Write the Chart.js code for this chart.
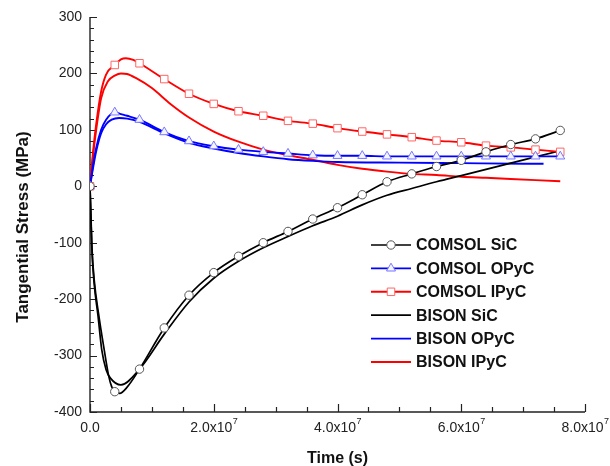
<!DOCTYPE html>
<html>
<head>
<meta charset="utf-8">
<script src="https://cdn.jsdelivr.net/npm/chart.js@4.4.1/dist/chart.umd.min.js"></script>
<style>
html,body{margin:0;padding:0;background:#fff;}
#wrap{width:610px;height:466px;position:relative;}
</style>
</head>
<body>
<div id="wrap"><canvas id="c" width="610" height="466"></canvas></div>
<script>
// ---- Data (time in seconds, stress in MPa) ----
const comsolSiCTime  = [0, 0.15e6, 0.3e6, 0.7e6, 1.4e6, 2.3e6, 3e6, 3.5e6, 4e6, 4.8e6, 6e6, 8e6, 12e6, 16e6, 20e6, 24e6, 28e6, 32e6, 36e6, 40e6, 44e6, 48e6, 52e6, 56e6, 60e6, 64e6, 68e6, 72e6, 76e6];
const comsolSiCValue = [0, -50, -105, -168, -227, -290, -335, -355, -364, -367, -356, -324, -251, -193, -153, -124, -100, -80, -58, -38, -15, 8, 22, 35, 46, 61, 74, 84, 99];

const comsolOPyCTime  = [0, 0.5e6, 1e6, 1.8e6, 2.6e6, 4e6, 5e6, 6e6, 8e6, 12e6, 16e6, 20e6, 24e6, 28e6, 32e6, 36e6, 40e6, 44e6, 48e6, 52e6, 56e6, 60e6, 64e6, 68e6, 72e6, 76e6];
const comsolOPyCValue = [0, 38, 68, 100, 118, 131, 128, 125, 118, 96, 80, 71, 65, 61, 58, 55, 54, 54, 53, 53, 53, 53, 53, 53, 53, 53];

const comsolIPyCTime  = [0, 0.5e6, 1e6, 1.8e6, 2.6e6, 4e6, 5e6, 5.8e6, 7e6, 8e6, 12e6, 16e6, 20e6, 24e6, 28e6, 32e6, 36e6, 40e6, 44e6, 48e6, 52e6, 56e6, 60e6, 64e6, 68e6, 72e6, 76e6];
const comsolIPyCValue = [0, 62, 110, 168, 198, 215, 225, 227, 224, 218, 190, 164, 146, 133, 125, 116, 111, 103, 97, 92, 87, 81, 78, 72, 69, 65, 61];

const bisonSiCTime  = [0, 0.15e6, 0.3e6, 0.65e6, 1.3e6, 1.9e6, 2.6e6, 3.3e6, 5e6, 8e6, 12e6, 16e6, 20e6, 24e6, 28e6, 32e6, 36e6, 40e6, 44e6, 48e6, 52e6, 56e6, 60e6, 64e6, 68e6, 72e6, 76e6];
const bisonSiCValue = [0, -55, -110, -170, -230, -290, -325, -340, -352, -324, -262, -205, -163, -133, -109, -89, -70, -53, -33, -16, -4, 8, 19, 30, 41, 52, 63];

const bisonOPyCTime  = [0, 0.5e6, 1e6, 1.8e6, 2.6e6, 3.5e6, 4.7e6, 6e6, 8e6, 12e6, 16e6, 20e6, 24e6, 28e6, 32e6, 36e6, 40e6, 50e6, 60e6, 70e6, 73.3e6];
const bisonOPyCValue = [0, 33, 62, 94, 110, 118, 121, 120, 114, 94, 77, 67, 59, 53, 48, 45, 43, 42, 41, 40, 40];

const bisonIPyCTime  = [0, 0.5e6, 1e6, 1.8e6, 2.9e6, 4e6, 5e6, 6e6, 7.4e6, 10e6, 13e6, 16e6, 20e6, 24e6, 28e6, 32e6, 36e6, 40e6, 44e6, 48e6, 52e6, 56e6, 60e6, 64e6, 68e6, 72e6, 76e6];
const bisonIPyCValue = [0, 55, 100, 156, 186, 196, 200, 199, 192, 174, 146, 122, 97, 79, 65, 55, 47, 38, 31, 26, 22, 20, 17, 15, 13, 11, 9];

const seriesLabels = ['COMSOL SiC', 'COMSOL OPyC', 'COMSOL IPyC', 'BISON SiC', 'BISON OPyC', 'BISON IPyC'];

const xTickValues = [0, 2e7, 4e7, 6e7, 8e7];
const xTickBase   = ['0.0', '2.0x10', '4.0x10', '6.0x10', '8.0x10'];
const xTickExp    = ['', '7', '7', '7', '7'];
const yTickValues = [-400, -300, -200, -100, 0, 100, 200, 300];

const xTitle = 'Time (s)';
const yTitle = 'Tangential Stress (MPa)';

// ---- helpers ----
const markerEvery = 4e6;
function pairs(ts, vs) { return ts.map((t, i) => ({ x: t, y: vs[i] })); }
function markerRadius(r) { return c => (c.raw && c.raw.x % markerEvery === 0) ? r : 0; }
const FONT = '"Liberation Sans", Arial, Helvetica, sans-serif';

const datasets = [
  { label: seriesLabels[0], data: pairs(comsolSiCTime, comsolSiCValue), borderColor: '#000', borderWidth: 1.7,
    pointStyle: 'circle', pointRadius: markerRadius(4.2), pointBackgroundColor: '#fff', pointBorderColor: '#555', pointBorderWidth: 1, legendRadius: 4.2 },
  { label: seriesLabels[1], data: pairs(comsolOPyCTime, comsolOPyCValue), borderColor: '#0000ff', borderWidth: 1.9,
    pointStyle: 'triangle', pointRadius: markerRadius(5.2), pointBackgroundColor: '#f4f4ff', pointBorderColor: '#7777ff', pointBorderWidth: 1, legendRadius: 5.2 },
  { label: seriesLabels[2], data: pairs(comsolIPyCTime, comsolIPyCValue), borderColor: '#ff0000', borderWidth: 1.9,
    pointStyle: 'rect', pointRadius: markerRadius(5.3), pointBackgroundColor: '#fff', pointBorderColor: '#ff6666', pointBorderWidth: 1, legendRadius: 5.3 },
  { label: seriesLabels[3], data: pairs(bisonSiCTime, bisonSiCValue), borderColor: '#000', borderWidth: 1.7, pointRadius: 0, legendRadius: 0 },
  { label: seriesLabels[4], data: pairs(bisonOPyCTime, bisonOPyCValue), borderColor: '#0000ff', borderWidth: 1.9, pointRadius: 0, legendRadius: 0 },
  { label: seriesLabels[5], data: pairs(bisonIPyCTime, bisonIPyCValue), borderColor: '#ff0000', borderWidth: 1.9, pointRadius: 0, legendRadius: 0 }
].map(d => Object.assign({ fill: false, cubicInterpolationMode: 'monotone', pointHoverRadius: 0 }, d));

// ---- axes, ticks, labels, titles, legend drawn with the scales ----
const decorPlugin = {
  id: 'decor',
  beforeDatasetsDraw(chart) {
    const { ctx, chartArea: a, scales: { x, y } } = chart;
    ctx.save();
    ctx.strokeStyle = '#222';
    ctx.lineWidth = 1.4;
    ctx.beginPath();
    ctx.moveTo(a.left, a.top);
    ctx.lineTo(a.left, a.bottom);
    ctx.lineTo(a.right, a.bottom);
    ctx.stroke();
    ctx.lineWidth = 1.2;
    ctx.beginPath();
    const yMin = y.min, yMax = y.max;
    for (let v = yMin; v <= yMax + 1e-9; v += 20) {
      const py = Math.round(y.getPixelForValue(v)) + 0.5;
      const major = yTickValues.includes(v);
      ctx.moveTo(a.left, py);
      ctx.lineTo(a.left + (major ? 7 : 4), py);
    }
    for (let t = x.min; t <= x.max + 1; t += 5e6) {
      const px = Math.round(x.getPixelForValue(t)) + 0.5;
      const major = xTickValues.includes(t);
      ctx.moveTo(px, a.bottom);
      ctx.lineTo(px, a.bottom - (major ? 8 : 5));
    }
    ctx.stroke();
    ctx.restore();
  },
  afterDraw(chart) {
    const { ctx, chartArea: a, scales: { x, y } } = chart;
    ctx.save();
    // x tick labels with superscript exponent
    ctx.fillStyle = '#222';
    ctx.textBaseline = 'alphabetic';
    xTickValues.forEach((t, i) => {
      const px = x.getPixelForValue(t);
      ctx.font = '14px ' + FONT;
      const wb = ctx.measureText(xTickBase[i]).width;
      ctx.font = '9px ' + FONT;
      const we = xTickExp[i] ? ctx.measureText(xTickExp[i]).width : 0;
      const start = px - (wb + we) / 2;
      ctx.font = '14px ' + FONT;
      ctx.textAlign = 'left';
      ctx.fillText(xTickBase[i], start, a.bottom + 20);
      if (xTickExp[i]) {
        ctx.font = '9px ' + FONT;
        ctx.fillText(xTickExp[i], start + wb + 0.5, a.bottom + 12);
      }
    });
    // y title
    ctx.save();
    ctx.translate(23, 227);
    ctx.rotate(-Math.PI / 2);
    ctx.font = 'bold 17px ' + FONT;
    ctx.textAlign = 'center';
    ctx.textBaseline = 'middle';
    ctx.fillStyle = '#111';
    ctx.fillText(yTitle, 0, 0);
    ctx.restore();
    // x title
    ctx.font = 'bold 16px ' + FONT;
    ctx.textAlign = 'center';
    ctx.textBaseline = 'middle';
    ctx.fillStyle = '#111';
    ctx.fillText(xTitle, (a.left + a.right) / 2, 459);
    // legend
    const lx0 = 371, lx1 = 411, tx = 416, ly0 = 245, dy = 23.4;
    chart.data.datasets.forEach((d, i) => {
      const yy = ly0 + i * dy;
      ctx.strokeStyle = d.borderColor;
      ctx.lineWidth = d.borderWidth;
      ctx.beginPath();
      ctx.moveTo(lx0, yy);
      ctx.lineTo(lx1, yy);
      ctx.stroke();
      if (d.legendRadius) {
        ctx.fillStyle = d.pointBackgroundColor;
        ctx.strokeStyle = d.pointBorderColor;
        ctx.lineWidth = d.pointBorderWidth;
        Chart.helpers.drawPoint(ctx, { pointStyle: d.pointStyle, radius: d.legendRadius, rotation: 0, borderWidth: d.pointBorderWidth }, (lx0 + lx1) / 2, yy);
      }
      ctx.fillStyle = '#111';
      ctx.font = 'bold 16px ' + FONT;
      ctx.textAlign = 'left';
      ctx.textBaseline = 'middle';
      ctx.fillText(d.label, tx, yy + 1);
    });
    ctx.restore();
  }
};

new Chart(document.getElementById('c'), {
  type: 'line',
  data: { datasets },
  options: {
    responsive: false,
    animation: false,
    events: [],
    layout: { padding: { left: 0, right: 25, top: 17, bottom: 0 } },
    plugins: { legend: { display: false }, tooltip: { enabled: false } },
    scales: {
      x: {
        type: 'linear', min: 0, max: 8e7,
        ticks: { display: false, stepSize: 2e7 },
        grid: { display: false, drawTicks: false },
        border: { display: false },
        afterFit(s) { s.height = 54; s.paddingLeft = 0; s.paddingRight = 0; }
      },
      y: {
        type: 'linear', min: -400, max: 300,
        ticks: { stepSize: 100, padding: 8, color: '#222', font: { size: 14, family: FONT } },
        grid: { display: false, drawTicks: false },
        border: { display: false },
        afterFit(s) { s.width = 90; s.paddingTop = 0; s.paddingBottom = 0; }
      }
    }
  },
  plugins: [decorPlugin]
});
</script>
</body>
</html>
